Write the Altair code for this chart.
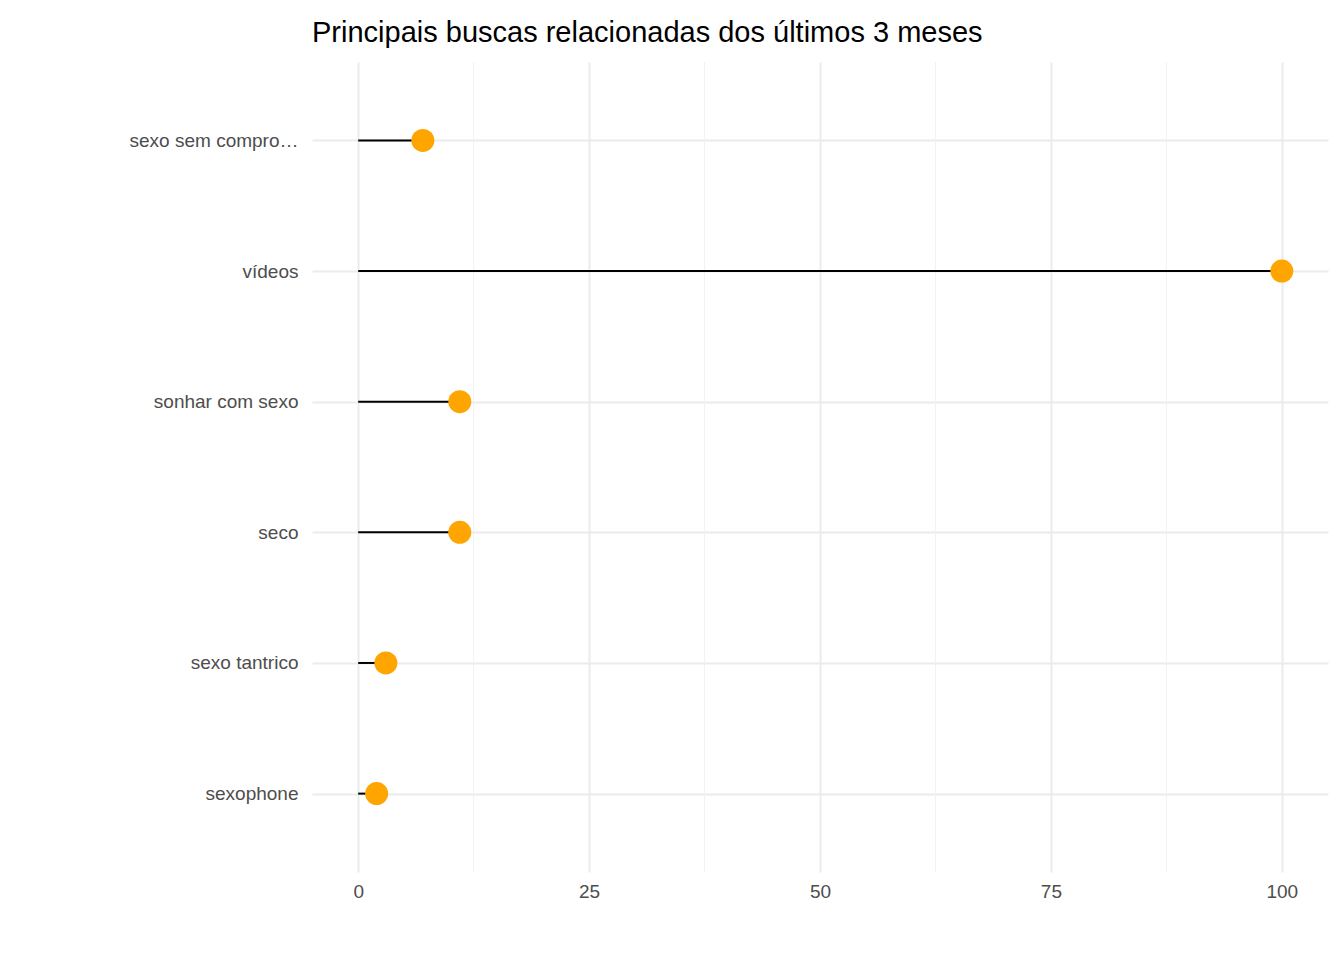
import altair as alt
import pandas as pd

termos = ['sexo sem compromisso', 'vídeos', 'sonhar com sexo', 'seco', 'sexo tantrico', 'sexophone']
valores = [7, 100, 11, 11, 3, 2]
minor_ticks = [12.5, 37.5, 62.5, 87.5]

df = pd.DataFrame({'termo': termos, 'valor': valores, 'zero': [0] * len(termos),
                   'pos': list(range(len(termos)))})
minor = pd.DataFrame({'v': minor_ticks})

label_js = '[' + ','.join("'" + t + "'" for t in termos) + '][datum.value]'

x_scale = alt.Scale(domain=[-5, 105], nice=False, zero=False)
y_scale = alt.Scale(domain=[-0.6, len(termos) - 0.4], nice=False, zero=False, reverse=True)

minor_layer = alt.Chart(minor).mark_rule(color='#F2F2F2', strokeWidth=1).encode(
    x=alt.X('v:Q', scale=x_scale)
)

stems = alt.Chart(df).mark_rule(color='black', strokeWidth=2).encode(
    x=alt.X('zero:Q', scale=x_scale,
            axis=alt.Axis(title=None, values=[0, 25, 50, 75, 100], grid=True,
                          gridColor='#EBEBEB', gridWidth=2, domain=False, ticks=False,
                          labelFontSize=19, labelColor='#4D4D4D', labelPadding=10,
                          labelFont='Liberation Sans')),
    x2='valor:Q',
    y=alt.Y('pos:Q', scale=y_scale,
            axis=alt.Axis(title=None, values=list(range(len(termos))), labelExpr=label_js,
                          grid=True, gridColor='#EBEBEB', gridWidth=2,
                          domain=False, ticks=False, labelFontSize=19,
                          labelColor='#4D4D4D', labelPadding=14,
                          labelFont='Liberation Sans'))
)

points = alt.Chart(df).mark_circle(color='orange', opacity=1, size=530).encode(
    x=alt.X('valor:Q', scale=x_scale),
    y=alt.Y('pos:Q', scale=y_scale)
)

chart = (minor_layer + stems + points).properties(
    width=1016, height=810,
    title=alt.TitleParams('Principais buscas relacionadas dos últimos 3 meses',
                          anchor='start', frame='group', fontSize=29, fontWeight='normal',
                          font='Liberation Sans', color='black', offset=14),
    autosize=alt.AutoSizeParams(type='none'),
    padding={'left': 304, 'top': 54, 'right': 8, 'bottom': 80}
).configure_view(stroke=None)

chart.save("out.html", embed_options={"renderer": "svg", "actions": False})
